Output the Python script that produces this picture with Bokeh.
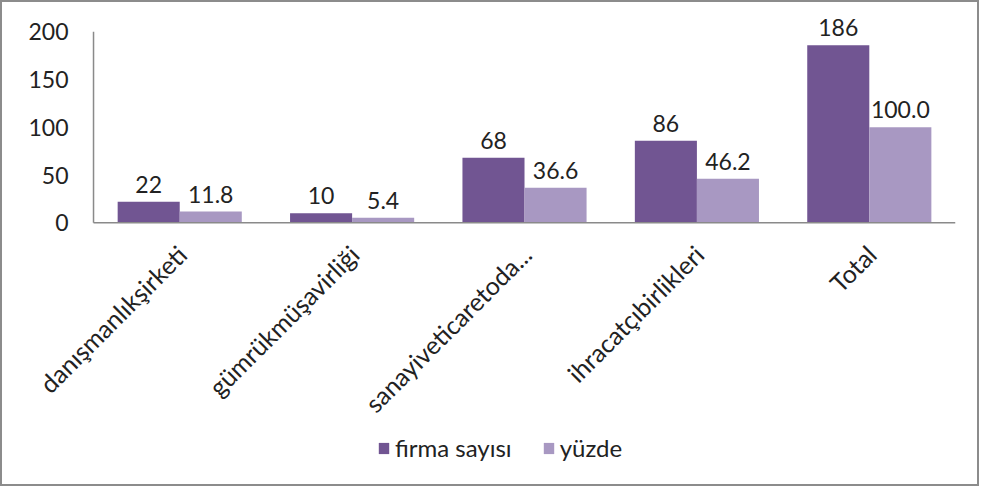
import math
from bokeh.plotting import figure
from bokeh.models import ColumnDataSource, Range1d, Legend, LegendItem, LabelSet
from bokeh.core.properties import value
from bokeh.transform import dodge
from bokeh.embed import file_html
from bokeh.resources import INLINE

categories = ["danışmanlıkşirketi", "gümrükmüşavirliği", "sanayiveticaretoda...", "ihracatçıbirlikleri", "Total"]
firma_sayisi = [22, 10, 68, 86, 186]
yuzde = [11.8, 5.4, 36.6, 46.2, 100.0]
y_ticks = [0, 50, 100, 150, 200]

FONT = "Lato"
DARK = "#715592"
LIGHT = "#A898C2"
AXIS = "#8a8a8a"
TXT = "#222222"

n = len(categories)
src = ColumnDataSource(dict(
    pos=list(range(n)),
    cat=categories,
    zero=[0] * n,
    firma=firma_sayisi,
    yuzde=yuzde,
    firma_lbl=[str(v) for v in firma_sayisi],
    yuzde_lbl=["%.1f" % v for v in yuzde],
))
tick_src = ColumnDataSource(dict(y=y_ticks, lbl=[str(t) for t in y_ticks],
                                 x=[-0.5] * len(y_ticks)))

p = figure(x_range=Range1d(-0.97, n - 0.5), y_range=Range1d(-274, 216),
           frame_width=943, frame_height=468, output_backend="svg", toolbar_location=None,
           min_border_left=10, min_border_right=22, min_border_top=14, min_border_bottom=0)
p.styles = {"border": "2px solid #8c8c8c", "box-sizing": "border-box"}
p.outline_line_color = None
p.xgrid.grid_line_color = None
p.ygrid.grid_line_color = None
p.xaxis.visible = False
p.yaxis.visible = False

r1 = p.vbar(x=dodge("pos", -0.18), top="firma", width=0.36, source=src,
            fill_color=DARK, line_color=None)
r2 = p.vbar(x=dodge("pos", 0.18), top="yuzde", width=0.36, source=src,
            fill_color=LIGHT, line_color=None)

# axis lines: category axis along zero, value axis from 0 to top tick
p.segment(x0=-0.5, y0=0, x1=n - 0.5, y1=0, line_color=AXIS, line_width=1.5)
p.segment(x0=-0.5, y0=y_ticks[0], x1=-0.5, y1=y_ticks[-1], line_color=AXIS, line_width=1.5)

# value-axis tick labels
p.add_layout(LabelSet(x="x", y="y", text="lbl", source=tick_src, text_align="right",
                      text_baseline="middle", x_offset=-25, text_font=value(FONT),
                      text_font_size="23px", text_color=TXT))

# value labels above bars
for col, off in (("firma", -0.18), ("yuzde", 0.18)):
    p.add_layout(LabelSet(x=dodge("pos", off), y=col, text=col + "_lbl", source=src,
                          text_align="center", text_baseline="bottom", y_offset=9,
                          text_font=value(FONT), text_font_size="23px", text_color=TXT))

# rotated category labels
p.add_layout(LabelSet(x="pos", y="zero", text="cat", source=src, angle=math.pi / 4,
                      text_align="right", text_baseline="middle", x_offset=2, y_offset=-27,
                      text_font=value(FONT), text_font_size="25px", text_color=TXT))

legend = Legend(items=[LegendItem(label="firma sayısı", renderers=[r1]),
                       LegendItem(label="yüzde", renderers=[r2])],
                orientation="horizontal", location=(365, 22),
                label_text_font=FONT, label_text_font_size="24px", label_text_color=TXT,
                glyph_width=13, glyph_height=14, spacing=30, label_standoff=5,
                background_fill_alpha=0, border_line_color=None, padding=0, margin=0)
p.add_layout(legend, "center")

open("out.html", "w").write(file_html(p, INLINE))
